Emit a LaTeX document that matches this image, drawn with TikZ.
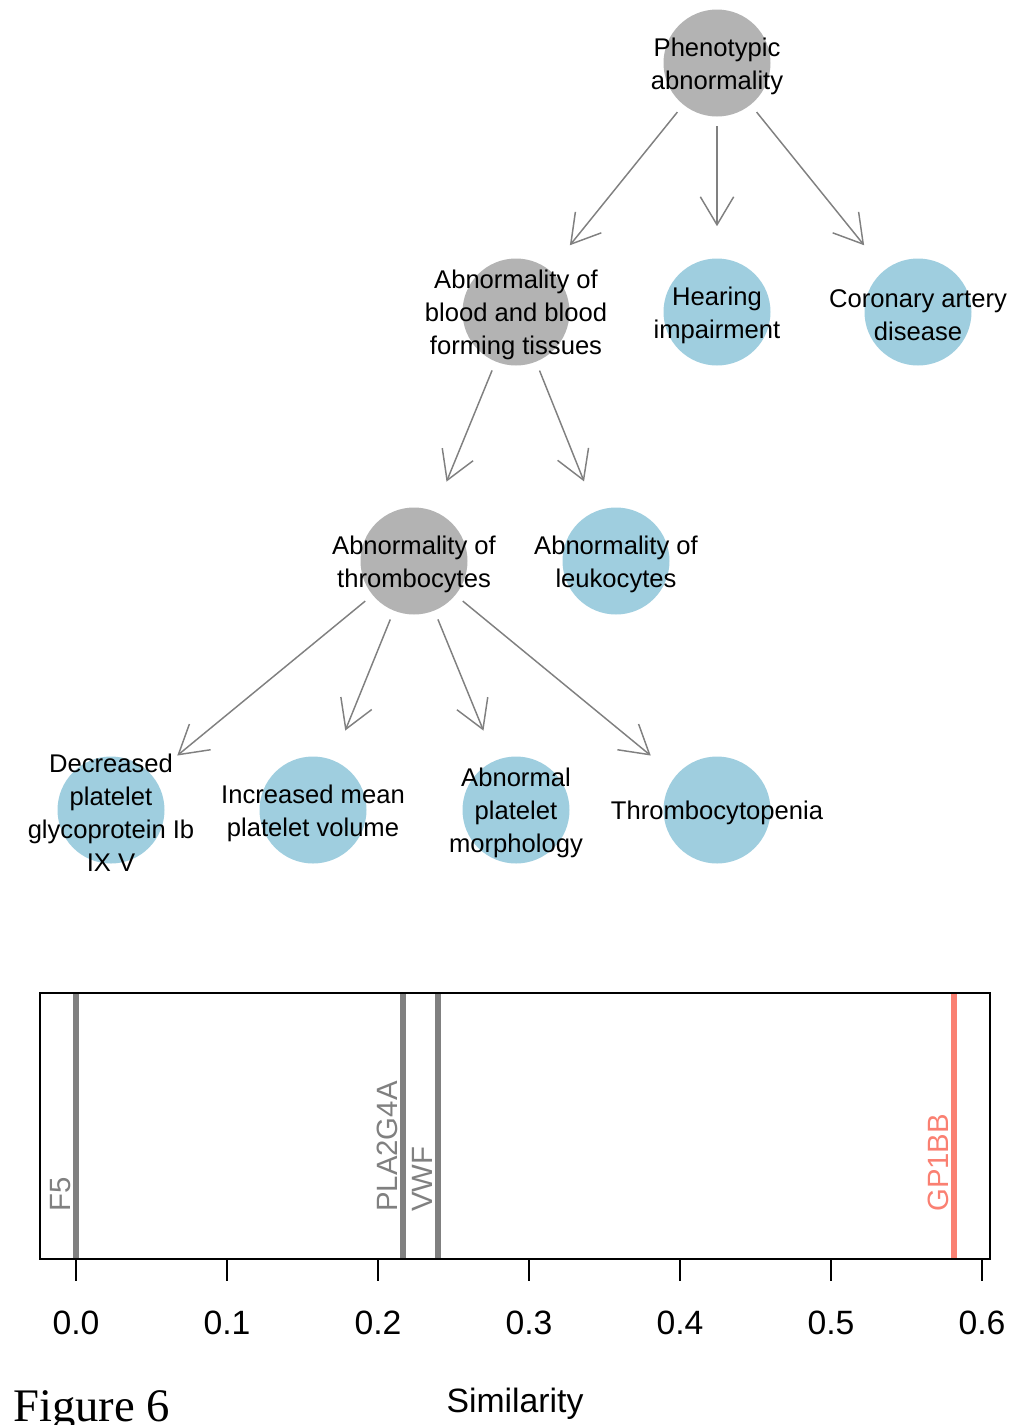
\documentclass[tikz,border=0pt]{standalone}
\usepackage{fontspec}
\setmainfont{Liberation Sans}
\newfontfamily\serifft{Liberation Serif}
\usetikzlibrary{arrows.meta}
\definecolor{nodegray}{RGB}{179,179,179}
\definecolor{nodeblue}{RGB}{159,206,223}
\definecolor{edgegray}{RGB}{128,128,128}
\definecolor{genegray}{RGB}{128,128,128}
\definecolor{genered}{RGB}{250,128,114}
\tikzset{
  disc/.style={circle,minimum size=80.25pt,inner sep=0pt,draw=none},
  gdisc/.style={disc,fill=nodegray},
  bdisc/.style={disc,fill=nodeblue},
  lbl/.style={align=center,inner sep=0pt,yshift=-2.4pt,font=\fontsize{19.2}{24.75}\selectfont},
  arr/.style={draw=edgegray,line width=1.1pt,-{Straight Barb[length=21pt,width=25pt,line width=1.1pt]},shorten <=7pt,shorten >=24pt},
  tick/.style={line width=1.5pt},
  ticklbl/.style={font=\fontsize{25.3}{30}\selectfont},
  gene/.style={rotate=90,anchor=base west,inner sep=0pt,font=\fontsize{22}{26}\selectfont},
  gline/.style={line width=3.8pt}
}
\begin{document}
\begin{tikzpicture}[x=0.75pt,y=-0.75pt]
\useasboundingbox (0,0) rectangle (1014,1425);
% nodes
\node[gdisc] (pa) at (717,63) {};
\node[gdisc] (bl) at (516,312) {};
\node[bdisc] (hi) at (717,312) {};
\node[bdisc] (ca) at (918,312) {};
\node[gdisc] (th) at (414,561) {};
\node[bdisc] (le) at (616,561) {};
\node[bdisc] (dp) at (111,810) {};
\node[bdisc] (im) at (313,810) {};
\node[bdisc] (ap) at (516,810) {};
\node[bdisc] (tp) at (717,810) {};
% edges
\draw[arr] (pa) -- (bl);
\draw[arr] (pa) -- (hi);
\draw[arr] (pa) -- (ca);
\draw[arr] (bl) -- (th);
\draw[arr] (bl) -- (le);
\draw[arr] (th) -- (dp);
\draw[arr] (th) -- (im);
\draw[arr] (th) -- (ap);
\draw[arr] (th) -- (tp);
% labels
\node[lbl] (pa-t) at (pa) {Phenotypic\\abnormality};
\node[lbl] (bl-t) at (bl) {Abnormality of\\blood and blood\\forming tissues};
\node[lbl] (hi-t) at (hi) {Hearing\\impairment};
\node[lbl] (ca-t) at (ca) {Coronary artery\\disease};
\node[lbl] (th-t) at (th) {Abnormality of\\thrombocytes};
\node[lbl] (le-t) at (le) {Abnormality of\\leukocytes};
\node[lbl] (dp-t) at (dp) {Decreased\\platelet\\glycoprotein Ib\\IX V};
\node[lbl] (im-t) at (im) {Increased mean\\platelet volume};
\node[lbl] (ap-t) at (ap) {Abnormal\\platelet\\morphology};
\node[lbl] (tp-t) at (tp) {Thrombocytopenia};
% plot
\draw[gline,genegray] (76,993) -- (76,1259);
\draw[gline,genegray] (403,993) -- (403,1259);
\draw[gline,genegray] (438,993) -- (438,1259);
\draw[gline,genered] (954,993) -- (954,1259);
\node[gene,text=genegray] (g-f5) at (70,1212) {F5};
\node[gene,text=genegray] (g-pla) at (397,1212) {PLA2G4A};
\node[gene,text=genegray] (g-vwf) at (432,1212) {VWF};
\node[gene,text=genered] (g-gp) at (948,1212) {GP1BB};
\draw[line width=1.5pt] (40,993) rectangle (990,1259);
\foreach \v/\t [count=\i] in {0/0.0,1/0.1,2/0.2,3/0.3,4/0.4,5/0.5,6/0.6}{
  \draw[tick] (76+151*\v,1259) -- (76+151*\v,1281);
  \node[ticklbl] (tl\i) at (76+151*\v,1323) {\t};
}
\node[ticklbl] (xlab) at (515,1404) {Similarity};
\node[anchor=base west,inner sep=0pt,font=\serifft\fontsize{35}{40}\selectfont] (fig) at (13,1421) {Figure 6};
\end{tikzpicture}
\end{document}
